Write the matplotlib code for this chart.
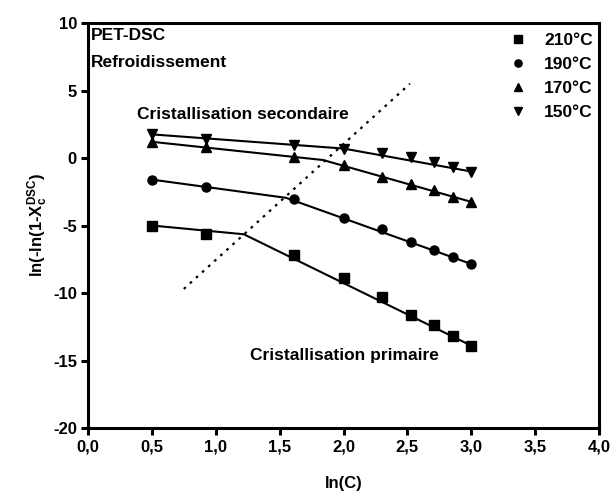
import matplotlib
matplotlib.use("Agg")
import matplotlib.pyplot as plt
from matplotlib.ticker import FuncFormatter, MultipleLocator

plt.rcParams['font.family'] = ['Liberation Sans', 'DejaVu Sans']
plt.rcParams['font.weight'] = 'bold'
plt.rcParams['mathtext.fontset'] = 'custom'
plt.rcParams['mathtext.rm'] = 'Liberation Sans:bold'
plt.rcParams['mathtext.it'] = 'Liberation Sans:bold'
plt.rcParams['mathtext.bf'] = 'Liberation Sans:bold'

lnC = [0.5, 0.92, 1.61, 2.0, 2.30, 2.53, 2.71, 2.86, 3.0]
y210 = [-5.0, -5.65, -7.2, -8.9, -10.3, -11.6, -12.35, -13.2, -13.95]
y190 = [-1.6, -2.12, -3.04, -4.42, -5.28, -6.2, -6.8, -7.33, -7.82]
y170 = [1.2, 0.84, 0.05, -0.5, -1.4, -1.9, -2.4, -2.87, -3.25]
y150 = [1.75, 1.4, 1.0, 0.7, 0.4, 0.05, -0.27, -0.64, -1.0]

fit_x_210 = [0.5, 1.22, 3.0]
fit_y_210 = [-5.0, -5.65, -13.9]
fit_x_190 = [0.5, 1.55, 3.0]
fit_y_190 = [-1.6, -2.95, -7.85]
fit_x_170 = [0.5, 1.84, 3.0]
fit_y_170 = [1.2, -0.15, -3.25]
fit_x_150 = [0.5, 2.0, 3.0]
fit_y_150 = [1.75, 0.7, -1.0]

dot_x = [0.75, 2.52]
dot_y = [-9.7, 5.5]

labels = ['210°C', '190°C', '170°C', '150°C']
markers = ['s', 'o', '^', 'v']

FS = 12.5

fig = plt.figure(figsize=(6.14, 4.94), dpi=100)
ax = fig.add_axes([88/614, 1-428/494, (599-88)/614, (428-23)/494])

series = [y210, y190, y170, y150]
fits = [(fit_x_210, fit_y_210), (fit_x_190, fit_y_190),
        (fit_x_170, fit_y_170), (fit_x_150, fit_y_150)]
for ys, m, lab, (fx, fy) in zip(series, markers, labels, fits):
    ax.plot(lnC, ys, linestyle='none', marker=m, color='black',
            markersize=6.5, label=lab)
    ax.plot(fx, fy, color='black', linewidth=1.5)

ax.plot(dot_x, dot_y, color='black', linestyle=(0, (1.2, 2.5)), linewidth=1.6)

ax.set_xlim(0, 4)
ax.set_ylim(-20, 10)
ax.xaxis.set_major_locator(MultipleLocator(0.5))
ax.yaxis.set_major_locator(MultipleLocator(5))
ax.xaxis.set_major_formatter(FuncFormatter(lambda v, p: f"{v:.1f}".replace('.', ',')))
ax.yaxis.set_major_formatter(FuncFormatter(lambda v, p: f"{int(round(v))}"))
ax.tick_params(axis='both', direction='out', length=5, width=2.2,
               labelsize=FS - 0.5, pad=3)
for lab in ax.get_xticklabels() + ax.get_yticklabels():
    lab.set_fontweight('bold')
for s in ax.spines.values():
    s.set_linewidth(2.2)

ax.set_xlabel('ln(C)', fontsize=FS - 0.5, fontweight='bold', labelpad=16)
ax.set_ylabel(r'ln(-ln(1-X$_\mathrm{c}^\mathrm{DSC}$)', fontsize=FS - 0.5,
              fontweight='bold', labelpad=2)

ax.text(0.02, 9.1, 'PET-DSC', fontsize=FS, fontweight='bold', va='center')
ax.text(0.02, 7.1, 'Refroidissement', fontsize=FS, fontweight='bold', va='center')
ax.text(0.38, 3.2, 'Cristallisation secondaire', fontsize=FS, fontweight='bold', va='center')
ax.text(1.27, -14.6, 'Cristallisation primaire', fontsize=FS, fontweight='bold', va='center')

leg = ax.legend(loc='upper right', bbox_to_anchor=(1.0, 0.99), frameon=False,
                markerscale=0.8, handlelength=1.0, handletextpad=1.0,
                labelspacing=0.5, borderaxespad=0.05, borderpad=0.3,
                prop={'weight': 'bold', 'size': FS})

fig.savefig('out.png', dpi=100)
